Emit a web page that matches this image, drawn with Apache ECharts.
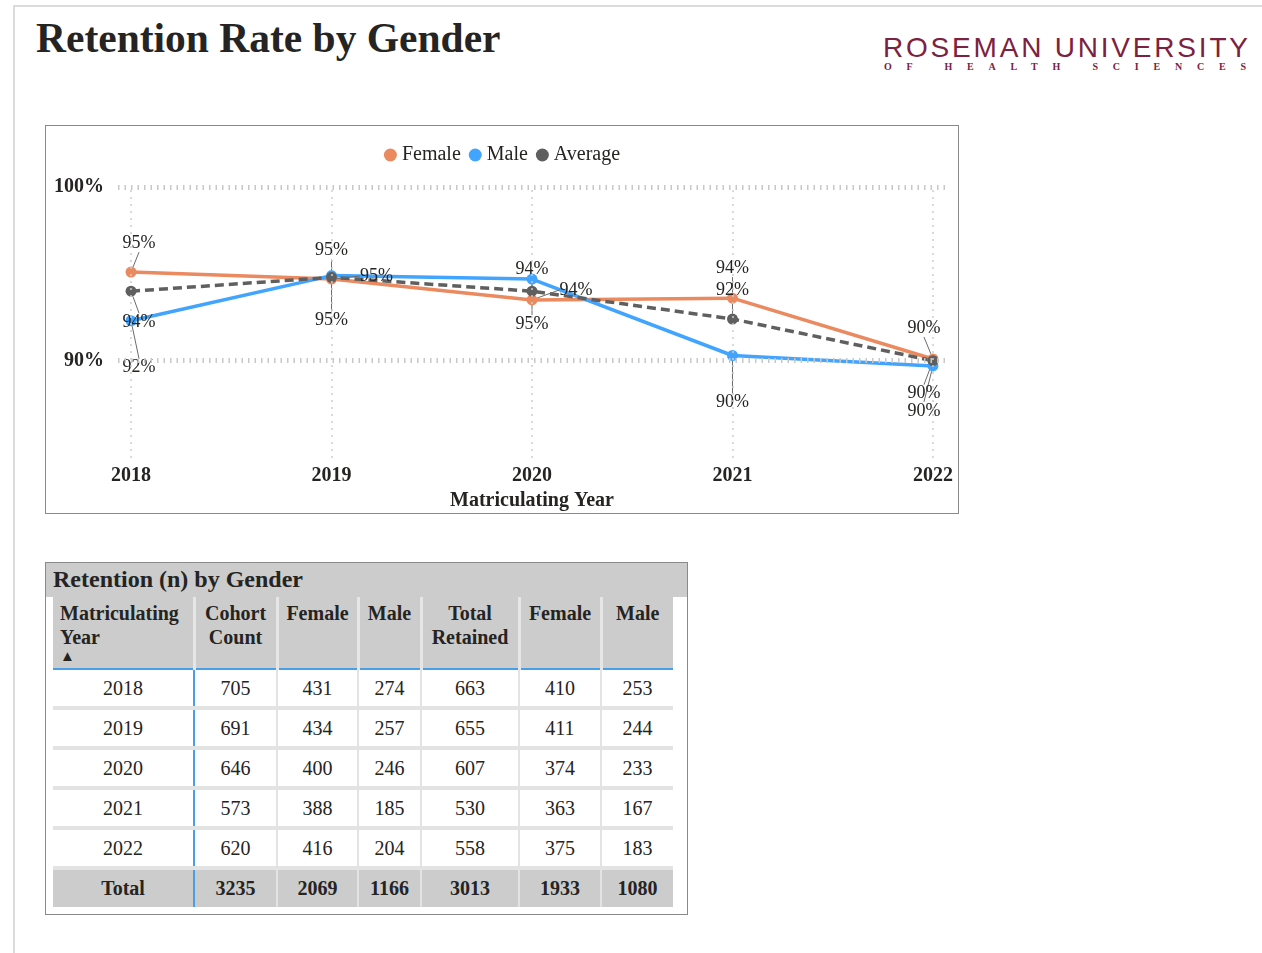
<!DOCTYPE html>
<html>
<head>
<meta charset="utf-8">
<script src="https://cdn.jsdelivr.net/npm/echarts@6/dist/echarts.min.js"></script>
<style>
  body { margin: 0; background: #fff; font-family: "Liberation Serif", "Times New Roman", serif; color: #252423; }
  #frame { position: absolute; left: 13px; top: 5px; width: 1260px; height: 960px; border-top: 2px solid #dcdcdc; border-left: 2px solid #dcdcdc; }
  #title { position: absolute; left: 36px; top: 14px; font-size: 41.5px; font-weight: bold; color: #252423; white-space: nowrap; }
  #logo { position: absolute; left: 883px; top: 32px; font-family: "Liberation Sans", sans-serif; font-size: 28px; letter-spacing: 2.8px; color: #7d2140; white-space: nowrap; line-height: 32px; }
  #logoSub { position: absolute; left: 884px; top: 61px; font-size: 10px; font-weight: bold; letter-spacing: 14.8px; color: #7d2140; white-space: nowrap; }
  #chart { position: absolute; left: 45px; top: 125px; width: 914px; height: 389px; border: 1px solid #8a8a8a; box-sizing: border-box; }
  #tableBox { position: absolute; left: 45px; top: 562px; width: 643px; height: 353px; border: 1px solid #8a8a8a; box-sizing: border-box; }
  #tableTitle { height: 34px; background: #cccccc; font-size: 24px; font-weight: bold; padding-left: 7px; line-height: 32px; }
  table { margin-left: 7px; border-collapse: collapse; width: 620px; font-size: 20px; table-layout: fixed; }
  th { background: #cccccc; font-weight: bold; vertical-align: top; text-align: center; padding: 4px 2px 0 2px; height: 67px; line-height: 24px; border-right: 3px solid #e6e6e6; border-bottom: 2px solid #4a9ee8; }
  th:first-child { text-align: left; padding-left: 7px; }
  th:last-child, td:last-child { border-right: none; }
  td { text-align: center; height: 36px; padding: 0; border-right: 2px solid #e3e3e3; border-bottom: 4px solid #e3e3e3; }
  td:first-child { border-right: 2px solid #4a9ee8; }
  tr.total td { background: #cccccc; font-weight: bold; border-bottom: none; height: 37px; }
  .arrow { font-size: 15px; line-height: 14px; display: block; }
</style>
</head>
<body>
<div id="frame"></div>
<div id="title">Retention Rate by Gender</div>
<div id="logo">ROSEMAN UNIVERSITY</div>
<div id="logoSub">OF HEALTH SCIENCES</div>
<div id="chart"></div>
<div id="tableBox">
  <div id="tableTitle">Retention (n) by Gender</div>
  <table id="tbl"></table>
</div>
<script>
// retention rate (%) by matriculating year
const years = [2018, 2019, 2020, 2021, 2022];
const femaleRate = [95.1, 94.7, 93.5, 93.6, 90.1];
const maleRate = [92.3, 94.9, 94.7, 90.3, 89.7];
const averageRate = [94.0, 94.8, 94.0, 92.4, 90.0];
const yTickValues = [90, 100];

// table counts
const cohortCount = [705, 691, 646, 573, 620];
const cohortFemale = [431, 434, 400, 388, 416];
const cohortMale = [274, 257, 246, 185, 204];
const totalRetained = [663, 655, 607, 530, 558];
const retainedFemale = [410, 411, 374, 363, 375];
const retainedMale = [253, 244, 233, 167, 183];

const serif = '"Liberation Serif", "Times New Roman", serif';

// where each data label sits relative to its point (px), per series
const labelOffsets = [
  [[8, -29], [45, -3], [44, -10], [0, -30], [-9, -31]],
  [[8, 47], [0, -25], [0, 45], [0, 47], [-9, 45]],
  [[8, 31], [0, 43], [0, -22], [0, -29], [-9, 33]]
];

function pairs(values) {
  return years.map((y, i) => [y, values[i]]);
}

function lineSeries(name, values, color, dashed) {
  return {
    name: name,
    type: 'line',
    data: pairs(values),
    symbol: 'circle',
    symbolSize: 11,
    z: 3,
    itemStyle: { color: color },
    lineStyle: { color: color, width: 3.5, type: dashed ? [9, 5] : 'solid' },
    label: {
      show: true,
      position: 'inside',
      fontFamily: serif,
      fontSize: 18,
      color: '#252423',
      formatter: p => Math.round(p.value[1]) + '%'
    },
    labelLine: { show: true, lineStyle: { color: '#6b6b6b', width: 1 } },
    labelLayout: p => ({
      dx: labelOffsets[p.seriesIndex][p.dataIndex][0],
      dy: labelOffsets[p.seriesIndex][p.dataIndex][1]
    })
  };
}

var chart = echarts.init(document.getElementById('chart'));
var option = {
  animation: false,
  legend: {
    top: 14,
    left: 'center',
    icon: 'circle',
    itemWidth: 13,
    itemHeight: 13,
    itemGap: 8,
    data: ['Female', 'Male', 'Average'],
    textStyle: { fontFamily: serif, fontSize: 20, color: '#252423' }
  },
  grid: { left: 72, right: 12, top: 61, bottom: 55, outerBoundsMode: 'none' },
  xAxis: {
    type: 'value',
    min: 2017.935,
    max: 2022.065,
    name: 'Matriculating Year',
    nameLocation: 'middle',
    nameGap: 31,
    nameTextStyle: { fontFamily: serif, fontSize: 20, fontWeight: 'bold', color: '#252423' },
    axisLine: { show: false },
    axisTick: { show: false },
    splitLine: { show: false },
    axisLabel: {
      customValues: years,
      formatter: v => String(v),
      margin: 8,
      fontFamily: serif,
      fontSize: 20,
      fontWeight: 'bold',
      color: '#252423'
    }
  },
  yAxis: {
    type: 'value',
    min: 84.4,
    max: 100,
    axisLine: { show: false },
    axisTick: { show: false },
    splitLine: { show: false },
    axisLabel: {
      customValues: yTickValues,
      formatter: v => v + '%',
      margin: 14,
      fontFamily: serif,
      fontSize: 20,
      fontWeight: 'bold',
      color: '#252423'
    }
  },
  series: [
    lineSeries('Female', femaleRate, '#eb895f', false),
    lineSeries('Male', maleRate, '#41a4ff', false),
    lineSeries('Average', averageRate, '#5f5f5f', true),
    {
      // gridlines
      name: 'grid',
      type: 'line',
      data: [],
      silent: true,
      z: 0,
      markLine: {
        silent: true,
        symbol: 'none',
        label: { show: false },
        animation: false,
        data: yTickValues.map(v => ({
          yAxis: v,
          lineStyle: { color: '#c8c8c8', width: 5, type: [1.5, 5] }
        })).concat(years.map(y => ({
          xAxis: y,
          lineStyle: { color: '#cdcdcd', width: 1.5, type: [2, 5] }
        })))
      }
    }
  ]
};
chart.setOption(option);

// table
const sum = arr => arr.reduce((a, b) => a + b, 0);
const columns = [cohortCount, cohortFemale, cohortMale, totalRetained, retainedFemale, retainedMale];
const widths = [141, 83, 81, 63, 98, 82, 72];
const headers = ['Matriculating Year<span class="arrow">&#9650;</span>', 'Cohort Count', 'Female', 'Male', 'Total Retained', 'Female', 'Male'];
let html = '<colgroup>' + widths.map(w => '<col style="width:' + w + 'px">').join('') + '</colgroup>';
html += '<tr>' + headers.map(h => '<th>' + h + '</th>').join('') + '</tr>';
years.forEach((y, i) => {
  html += '<tr><td>' + y + '</td>' + columns.map(c => '<td>' + c[i] + '</td>').join('') + '</tr>';
});
html += '<tr class="total"><td>Total</td>' + columns.map(c => '<td>' + sum(c) + '</td>').join('') + '</tr>';
document.getElementById('tbl').innerHTML = html;
</script>
</body>
</html>
